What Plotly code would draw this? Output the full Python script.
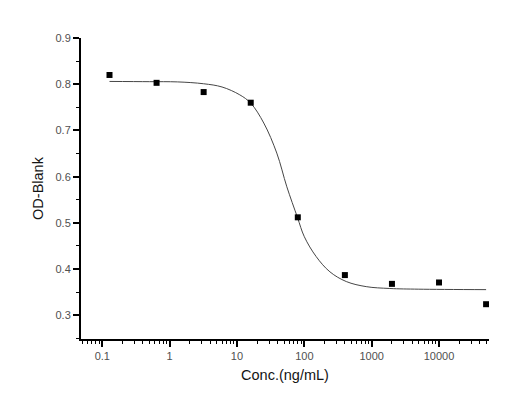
import plotly.graph_objects as go

# measured points (5-fold dilution series)
conc : list = [0.128, 0.64, 3.2, 16, 80, 400, 2000, 10000, 50000]
od_blank : list = [0.820, 0.803, 0.783, 0.760, 0.512, 0.387, 0.368, 0.371, 0.324]

# fitted curve
fit_conc : list = [0.128, 0.5, 1.3, 3.2, 6, 11, 16, 25, 39, 55, 79, 100, 150, 240, 420, 830, 1860, 5000, 50000]
fit_od : list = [0.806, 0.8055, 0.805, 0.801, 0.794, 0.777, 0.759, 0.716, 0.651, 0.578, 0.512, 0.470, 0.427, 0.394, 0.373, 0.362, 0.358, 0.3565, 0.3555]

x_tick_vals : list = [0.1, 1, 10, 100, 1000, 10000]
x_tick_text : list = ['0.1', '1', '10', '100', '1000', '10000']
y_tick_vals : list = [0.3, 0.4, 0.5, 0.6, 0.7, 0.8, 0.9]

def minor_log_ticks(decades : list) -> list :
	''' 2..9 times every decade, plus the ones under the first decade '''

	ticks : list = []
	for d in [decades[0] / 10] + decades :
		for k in range(2, 10) :
			ticks.append(d * k)

	return ticks

def make_figure() -> go.Figure :
	''' scatter of the measurements plus the fitted sigmoid '''

	fig : go.Figure = go.Figure()

	fig.add_trace(go.Scatter(
		x = fit_conc,
		y = fit_od,
		mode = 'lines',
		line = dict(color = 'rgb(70, 70, 70)', width = 1, shape = 'spline', smoothing = 1),
		hoverinfo = 'skip'
	))

	fig.add_trace(go.Scatter(
		x = conc,
		y = od_blank,
		mode = 'markers',
		marker = dict(symbol = 'square', size = 6, color = 'black')
	))

	axis_font : dict = dict(family = 'Liberation Sans, Arial', size = 11, color = 'rgb(80, 80, 80)')

	# the page body adds an 8px offset, margins are set to compensate
	fig.update_layout(
		width = 520,
		height = 416,
		showlegend = False,
		plot_bgcolor = 'white',
		paper_bgcolor = 'white',
		margin = dict(l = 73, r = 39, t = 30, b = 85),
		font = dict(family = 'Liberation Sans, Arial', color = 'black')
	)

	fig.update_xaxes(
		type = 'log',
		range = [-1.316, 4.742],
		tickvals = x_tick_vals,
		ticktext = x_tick_text,
		ticks = 'outside',
		ticklen = 6,
		tickwidth = 1.5,
		tickcolor = 'black',
		minor = dict(tickvals = minor_log_ticks(x_tick_vals), ticks = 'outside', ticklen = 3, tickwidth = 1.2, tickcolor = 'black', showgrid = False),
		showline = True,
		linecolor = 'black',
		linewidth = 2,
		showgrid = False,
		zeroline = False,
		tickfont = axis_font,
		title = dict(text = 'Conc.(ng/mL)', font = dict(size = 14.5, color = 'rgb(20, 20, 20)'), standoff = 9)
	)

	fig.update_yaxes(
		range = [0.2487, 0.9],
		tickvals = y_tick_vals,
		tickformat = '.1f',
		ticks = 'outside',
		ticklen = 6,
		tickwidth = 1.5,
		tickcolor = 'black',
		minor = dict(dtick = 0.05, ticks = 'outside', ticklen = 3, tickwidth = 1.2, tickcolor = 'black', showgrid = False),
		showline = True,
		linecolor = 'black',
		linewidth = 2,
		showgrid = False,
		zeroline = False,
		tickfont = axis_font,
		title = dict(text = 'OD-Blank', font = dict(size = 14.5, color = 'rgb(20, 20, 20)'), standoff = 8)
	)

	return fig

fig : go.Figure = make_figure()
fig.write_html('out.html')
